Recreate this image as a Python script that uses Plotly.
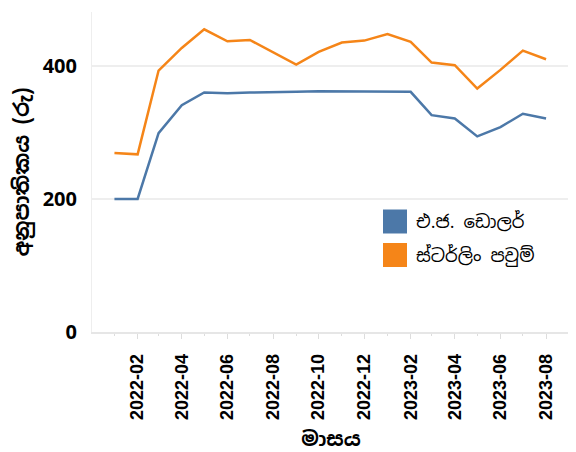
import plotly.graph_objects as go

months = ["2022-01","2022-02","2022-03","2022-04","2022-05","2022-06","2022-07","2022-08",
          "2022-09","2022-10","2022-11","2022-12","2023-01","2023-02","2023-03","2023-04",
          "2023-05","2023-06","2023-07","2023-08"]
usd = [200, 200, 299, 341, 360, 359, 360, 360, 361, 362, 362, 362, 361, 361, 326, 321, 294, 308, 328, 321]
gbp = [269, 267, 393, 427, 455, 437, 439, 421, 402, 421, 435, 438, 448, 436, 405, 401, 366, 394, 423, 410]

series_names = ["එ.ජ. ඩොලර්", "ස්ටර්ලිං පවුම්"]
colors = ["#4c78a8", "#f58518"]
x_title = "මාසය"
y_title = "අනුපාතිකය (රු)"
y_ticks = [0, 200, 400]
x_ticks = ["2022-02","2022-04","2022-06","2022-08","2022-10","2022-12","2023-02","2023-04","2023-06","2023-08"]

dates = [m + "-01" for m in months]
fig = go.Figure()
for name, vals, c in zip(series_names, [usd, gbp], colors):
    fig.add_trace(go.Scatter(x=dates, y=vals, mode="lines", name=name,
                             line=dict(color=c, width=2.5), showlegend=False))

# legend (manual squares + labels)
sink = "'Noto Sans Sinhala', 'Iskoola Pota', 'Noto Sans', sans-serif"
# plot area (page px): x 92..570 (478px), y 12..332 (320px)
leg_y = [(332 - 221.5) / 320, (332 - 255) / 320]
for name, c, yy in zip(series_names, colors, leg_y):
    fig.add_shape(type="rect", xref="paper", yref="paper",
                  x0=(383 - 92) / 478, x1=(407 - 92) / 478, y0=yy - 12 / 320, y1=yy + 12 / 320,
                  fillcolor=c, line=dict(width=0))
    fig.add_annotation(xref="paper", yref="paper", x=(414 - 92) / 478, y=yy, text=name,
                       showarrow=False, xanchor="left", yanchor="middle",
                       font=dict(size=18, color="#000", family=sink))

# page body has an 8px margin, so the figure is offset by (8, 8)
fig.update_layout(
    width=568, height=444,
    margin=dict(l=84, r=6, t=4, b=120),
    paper_bgcolor="white", plot_bgcolor="white",
    showlegend=False,
)
fig.update_xaxes(
    automargin=False,
    range=["2021-12-02", "2023-09-02"],
    tickvals=[t + "-01" for t in x_ticks], ticktext=x_ticks,
    tickangle=-90, tickfont=dict(size=18, family="Liberation Sans", color="#000", weight="bold"),
    ticks="outside", ticklen=5, tickcolor="#ddd", ticklabelstandoff=8,
    minor=dict(dtick="M1", ticks="outside", ticklen=2, tickcolor="#ddd", showgrid=False),
    showgrid=False, showline=True, linecolor="#e6e6e6", linewidth=1.5,
    title=dict(text=x_title, font=dict(size=20, family=sink, color="#000", weight="bold"), standoff=14),
)
fig.update_yaxes(
    automargin=False,
    range=[0, 481], tickvals=y_ticks,
    tickfont=dict(size=20, family="Open Sans", color="#000", weight="bold"),
    ticks="", ticklabelstandoff=10,
    showgrid=True, gridcolor="#eeeeee", gridwidth=1.5,
    zeroline=False, showline=True, linecolor="#eeeeee", linewidth=1,
    title=dict(text=y_title, font=dict(size=21, family=sink, color="#000", weight="bold"), standoff=12),
)
fig.write_html("out.html")
